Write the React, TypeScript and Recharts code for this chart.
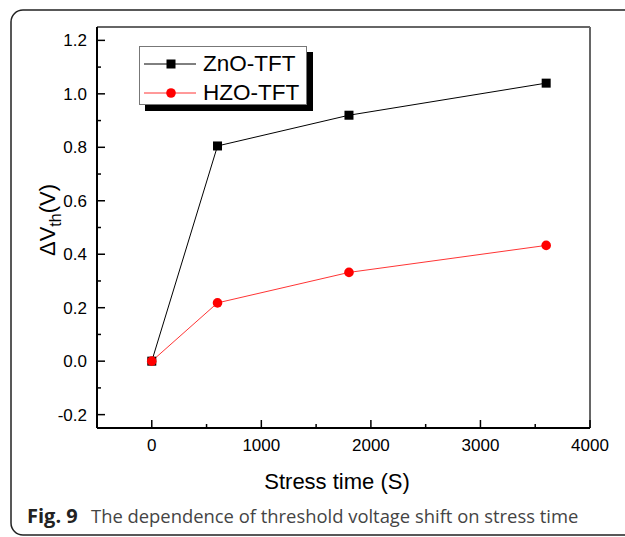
import { LineChart, Line, XAxis, YAxis, Legend, ReferenceLine, Label } from 'recharts'

const stressTime = [0, 600, 1800, 3600]
const znoShift = [0, 0.805, 0.92, 1.04]
const hzoShift = [0, 0.218, 0.332, 0.433]

const xTicks = [0, 500, 1000, 1500, 2000, 2500, 3000, 3500, 4000]
const xLabels = [0, 1000, 2000, 3000, 4000]
const yTicks = [-0.2, -0.1, 0, 0.1, 0.2, 0.3, 0.4, 0.5, 0.6, 0.7, 0.8, 0.9, 1.0, 1.1, 1.2]
const yLabels = [-0.2, 0, 0.2, 0.4, 0.6, 0.8, 1.0, 1.2]

const data = stressTime.map((t, i) => ({ t, zno: znoShift[i], hzo: hzoShift[i] }))

const AXIS_FONT = 'Arial, "Liberation Sans", sans-serif'
const CAPTION_FONT = '"Open Sans", "Noto Sans", sans-serif'

function XTick (props: any) {
  const { x, y, payload } = props
  const major = xLabels.includes(payload.value)
  return (
    <g>
      <line x1={x} x2={x} y1={y} y2={y - (major ? 8 : 4)} stroke="#000" strokeWidth={1.5} />
      {major && (
        <text x={x} y={y + 23} textAnchor="middle" fontSize={17} fontFamily={AXIS_FONT} fill="#000">
          {payload.value}
        </text>
      )}
    </g>
  )
}

function YTick (props: any) {
  const { x, y, payload } = props
  const major = yLabels.includes(payload.value)
  return (
    <g>
      <line x1={x} x2={x + (major ? 8 : 4)} y1={y} y2={y} stroke="#000" strokeWidth={1.5} />
      {major && (
        <text x={x - 10} y={y} dy="0.36em" textAnchor="end" fontSize={17} fontFamily={AXIS_FONT} fill="#000">
          {payload.value.toFixed(1)}
        </text>
      )}
    </g>
  )
}

const SquareDot = (props: any) => {
  const { cx, cy, index } = props
  return <rect key={`sq-${index}`} x={cx - 4.5} y={cy - 4.5} width={9} height={9} fill="#000" />
}

const RoundDot = (props: any) => {
  const { cx, cy, index } = props
  return <circle key={`ci-${index}`} cx={cx} cy={cy} r={4.8} fill="#ff0000" />
}

function LegendBox () {
  const rows = [
    { name: 'ZnO-TFT', color: '#000', square: true },
    { name: 'HZO-TFT', color: '#ff0000', square: false }
  ]
  return (
    <div style={{ position: 'relative', width: 166, height: 57, border: '1px solid #777', background: '#fff', boxShadow: '6px 6px 0 #000', fontFamily: AXIS_FONT, fontSize: 22.5 }}>
      {rows.map((r, i) => (
        <div key={r.name} style={{ position: 'absolute', left: 0, top: 3 + i * 29, height: 28, display: 'flex', alignItems: 'center' }}>
          <svg width={58} height={28}>
            <line x1={4} x2={56} y1={14} y2={14} stroke={r.color} strokeWidth={r.square ? 1 : 0.8} />
            {r.square
              ? <rect x={26.5} y={9.5} width={9} height={9} fill={r.color} />
              : <circle cx={31} cy={14} r={4.8} fill={r.color} />}
          </svg>
          <span style={{ marginLeft: 5, lineHeight: '28px', color: '#000' }}>{r.name}</span>
        </div>
      ))}
    </div>
  )
}

export default function App () {
  return (
    <div style={{ position: 'absolute', left: 0, top: 0, width: 625, height: 537, background: '#fff', overflow: 'hidden' }}>
      <LineChart width={625} height={537} data={data} margin={{ top: 27, right: 35, left: 0, bottom: 0 }}>
        <XAxis
          dataKey="t"
          type="number"
          domain={[-500, 4000]}
          ticks={xTicks}
          interval={0}
          tick={<XTick />}
          tickLine={false}
          tickSize={0}
          tickMargin={0}
          height={109}
          axisLine={{ stroke: '#000', strokeWidth: 2 }}
        >
          <Label
            content={() => (
              <text x={337} y={489} textAnchor="middle" fontSize={22} fontFamily={AXIS_FONT} fill="#000">
                Stress time (S)
              </text>
            )}
          />
        </XAxis>
        <YAxis
          type="number"
          domain={[-0.25, 1.25]}
          ticks={yTicks}
          interval={0}
          tick={<YTick />}
          tickLine={false}
          tickSize={0}
          tickMargin={0}
          width={97}
          axisLine={{ stroke: '#000', strokeWidth: 2 }}
        >
          <Label
            content={() => (
              <text transform="translate(55, 220) rotate(-90)" textAnchor="middle" fontSize={22} fontFamily={AXIS_FONT} fill="#000">
                ΔV<tspan fontSize={16} dy={6}>th</tspan><tspan dy={-6}>(V)</tspan>
              </text>
            )}
          />
        </YAxis>
        <ReferenceLine x={4000} stroke="#666" strokeWidth={2} />
        <ReferenceLine y={1.25} stroke="#666" strokeWidth={2} />
        <Legend
          verticalAlign="middle"
          content={() => <LegendBox />}
          wrapperStyle={{ left: 139, top: 46, width: 170, height: 65 }}
        />
        <Line
          dataKey="zno"
          name="ZnO-TFT"
          stroke="#000"
          strokeWidth={1}
          dot={SquareDot}
          activeDot={false}
          isAnimationActive={false}
        />
        <Line
          dataKey="hzo"
          name="HZO-TFT"
          stroke="#ff0000"
          strokeWidth={0.8}
          dot={RoundDot}
          activeDot={false}
          isAnimationActive={false}
        />
      </LineChart>
      <svg width={625} height={537} style={{ position: 'absolute', left: 0, top: 0, pointerEvents: 'none' }}>
        <rect x={11} y={10} width={660} height={525} rx={12} fill="none" stroke="#222" strokeWidth={1.5} />
        <text x={27} y={523} fontSize={20} fontWeight="bold" fontFamily={CAPTION_FONT} fill="#222">Fig. 9</text>
        <text x={91} y={523} fontSize={18.4} fontFamily={CAPTION_FONT} fill="#444">
          The dependence of threshold voltage shift on stress time
        </text>
      </svg>
    </div>
  )
}
